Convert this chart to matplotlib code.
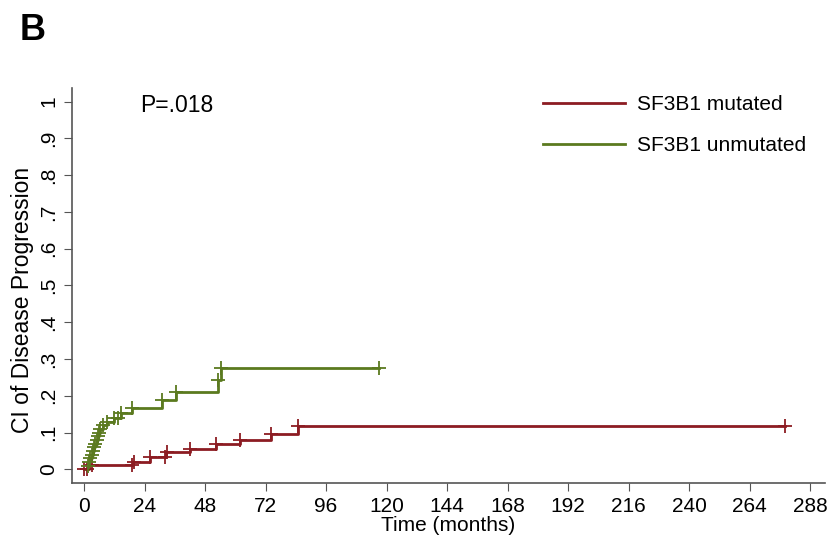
import matplotlib
matplotlib.use('Agg')
import matplotlib.pyplot as plt

plt.rcParams['font.family'] = ['Liberation Sans', 'DejaVu Sans']

# Cumulative incidence step data (time in months, value)
mut_times = [0, 2, 19.5, 26, 32.5, 42, 52.5, 62, 74, 85, 278]
mut_values = [0, 0.013, 0.021, 0.033, 0.046, 0.056, 0.068, 0.080, 0.096, 0.118, 0.118]
mut_censor = [0, 1, 3, 19, 20, 26, 32, 33, 42, 52.5, 62, 74, 85, 278]

unmut_times = [0, 1.5, 2, 2.5, 3, 3.5, 4, 4.5, 5, 5.5, 6, 6.5, 7.5, 9, 12, 14.5, 19,
               31, 36.5, 53, 54.5, 117]
unmut_values = [0, 0.01, 0.02, 0.03, 0.04, 0.05, 0.06, 0.07, 0.08, 0.09, 0.10, 0.11,
                0.12, 0.13, 0.14, 0.153, 0.166, 0.189, 0.211, 0.243, 0.275, 0.275]
unmut_censor = [1.5, 2, 2.5, 3, 3.5, 4, 4.5, 5, 5.5, 6, 6.5, 7.5, 9, 12, 13.5, 14.5,
                19, 31, 36.5, 53, 54.5, 117]

x_ticks = list(range(0, 289, 24))
y_ticks = [0, .1, .2, .3, .4, .5, .6, .7, .8, .9, 1]
y_labels = ['0', '.1', '.2', '.3', '.4', '.5', '.6', '.7', '.8', '.9', '1']

red = '#8c1c22'
green = '#5b7a1f'


def value_at(times, values, t):
    v = values[0]
    for ti, vi in zip(times, values):
        if ti <= t:
            v = vi
    return v


fig = plt.figure(figsize=(8.31, 5.40), dpi=100)
ax = fig.add_axes([0.0866, 0.1056, 0.9064, 0.7314])

ax.step(mut_times, mut_values, where='post', color=red, lw=2, label='SF3B1 mutated')
ax.step(unmut_times, unmut_values, where='post', color=green, lw=2, label='SF3B1 unmutated')

ax.plot(mut_censor, [value_at(mut_times, mut_values, t) for t in mut_censor],
        ls='none', marker='+', ms=10, mew=1.3, color=red)
ax.plot(unmut_censor, [value_at(unmut_times, unmut_values, t) for t in unmut_censor],
        ls='none', marker='+', ms=10, mew=1.3, color=green)

ax.set_xlim(-4.8, 294)
ax.set_ylim(-0.037, 1.037)
ax.set_xticks(x_ticks)
ax.set_yticks(y_ticks)
ax.set_yticklabels(y_labels, rotation=90, va='center')
ax.tick_params(labelsize=15, length=6, color='#555555', direction='out', pad=4)

for side in ['top', 'right']:
    ax.spines[side].set_visible(False)
for side in ['left', 'bottom']:
    ax.spines[side].set_color('#555555')
    ax.spines[side].set_linewidth(1.2)

ax.set_xlabel('Time (months)', fontsize=15, labelpad=0)
ax.set_ylabel('CI of Disease Progression', fontsize=16.5)
ax.yaxis.set_label_coords(-0.05, 0.463)

ax.text(0.0903, 0.957, 'P=.018', transform=ax.transAxes, fontsize=16.5, va='center')

ax.legend(loc='upper left', bbox_to_anchor=(0.6255, 0.982), frameon=False, fontsize=15,
          borderpad=0, borderaxespad=0, handlelength=3.95, handletextpad=0.58,
          labelspacing=1.05)

fig.text(0.024, 0.944, 'B', fontsize=26, fontweight='bold', va='center')

plt.savefig('out.png', dpi=100)
